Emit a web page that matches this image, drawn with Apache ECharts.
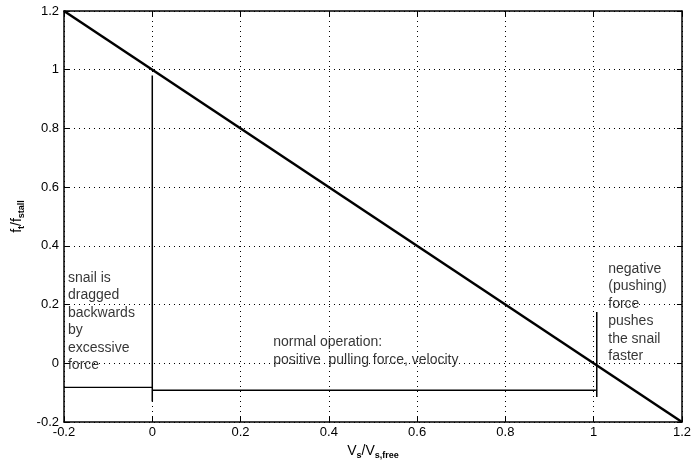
<!DOCTYPE html>
<html>
<head>
<meta charset="utf-8">
<script src="https://cdn.jsdelivr.net/npm/echarts@6/dist/echarts.min.js"></script>
<style>
  html, body { margin: 0; padding: 0; background: #fff; }
  #chart { width: 694px; height: 467px; }
</style>
</head>
<body>
<div id="chart"></div>
<script>
// Normalised force–velocity characteristic of the snail drive
const speedRatio = [-0.2, 1.2];          // V_s / V_s,free
const forceRatio = [1.2, -0.2];          // f_t / f_stall

// Bracket lines marking the three operating regions
const stallMarkX = [0, 0];
const stallMarkY = [0.98, -0.13];
const backwardSpanX = [-0.2, 0];
const backwardSpanY = [-0.082, -0.082];
const normalSpanX = [0, 1.005];
const normalSpanY = [-0.092, -0.092];
const freeMarkX = [1.007, 1.007];
const freeMarkY = [0.175, -0.115];

// Axis range and tick spacing
const axisMin = -0.2;
const axisMax = 1.2;
const tickStep = 0.2;

// Region notes
const noteBackward = ['snail is', 'dragged', 'backwards', 'by', 'excessive', 'force'];
const noteNormal = ['normal operation:', 'positive  pulling force, velocity'];
const notePushing = ['negative', '(pushing)', 'force', 'pushes', 'the snail', 'faster'];

const FONT = '"Liberation Sans", Arial, Helvetica, sans-serif';

function zip(xs, ys) { return xs.map((x, i) => [x, ys[i]]); }

function segment(xs, ys, width) {
  return {
    type: 'line', data: zip(xs, ys), symbol: 'none', silent: true,
    lineStyle: { color: '#000', width: width }, animation: false, z: 3
  };
}

function note(lines, x, y, lh) {
  return {
    type: 'scatter', symbolSize: 0, silent: true, animation: false, z: 4,
    data: [[x, y]],
    label: {
      show: true, position: [0, 0], align: 'left', verticalAlign: 'top',
      formatter: lines.join('\n'), fontFamily: FONT, fontSize: 14,
      lineHeight: lh, color: '#000'
    }
  };
}

const baseAxis = {
  type: 'value', min: axisMin, max: axisMax, interval: tickStep,
  axisLine: { show: true, onZero: false, lineStyle: { color: '#000', width: 1.5 } },
  axisTick: { show: true, inside: true, length: 5, lineStyle: { color: '#000' } }
};

const chart = echarts.init(document.getElementById('chart'), null, { renderer: 'canvas' });
chart.setOption({
  backgroundColor: '#fff',
  animation: false,
  grid: { left: 64, right: 10, top: 11, bottom: 45 },
  xAxis: [
    Object.assign({}, baseAxis, {
      position: 'bottom',
      name: '{a|V}{s|s}{a|/V}{s|s,free}',
      nameLocation: 'middle', nameGap: 17,
      nameTextStyle: {
        rich: {
          a: { fontFamily: FONT, fontSize: 14, color: '#000' },
          s: { fontFamily: FONT, fontSize: 9, fontWeight: 'bold', color: '#000', padding: [9, 0, 0, 0] }
        }
      },
      axisLabel: { fontFamily: FONT, fontSize: 13, color: '#000', margin: 4 },
      splitLine: { show: true, lineStyle: { color: '#000', type: [1, 4], width: 1 } }
    }),
    Object.assign({}, baseAxis, {
      position: 'top', axisLabel: { show: false }, splitLine: { show: false }
    })
  ],
  yAxis: [
    Object.assign({}, baseAxis, {
      position: 'left',
      name: '{a|f}{s|t}{a|/f}{s|stall}',
      nameLocation: 'middle', nameGap: 38, nameRotate: 90,
      nameTextStyle: {
        rich: {
          a: { fontFamily: FONT, fontSize: 14, color: '#000' },
          s: { fontFamily: FONT, fontSize: 9, fontWeight: 'bold', color: '#000', padding: [9, 0, 0, 0] }
        }
      },
      axisLabel: { fontFamily: FONT, fontSize: 13, color: '#000', margin: 5 },
      splitLine: { show: true, lineStyle: { color: '#000', type: [1, 4], width: 1 } }
    }),
    Object.assign({}, baseAxis, {
      position: 'right', axisLabel: { show: false }, splitLine: { show: false }
    })
  ],
  series: [
    {
      type: 'line', data: zip(speedRatio, forceRatio), symbol: 'none', silent: true,
      lineStyle: { color: '#000', width: 2.5 }, animation: false, z: 5
    },
    segment(stallMarkX, stallMarkY, 1.5),
    segment(backwardSpanX, backwardSpanY, 1.2),
    segment(normalSpanX, normalSpanY, 1.5),
    segment(freeMarkX, freeMarkY, 1.5),
    note(noteBackward, -0.191, 0.32, 17.4),
    note(noteNormal, 0.274, 0.1, 17.3),
    note(notePushing, 1.033, 0.35, 17.4)
  ]
});
</script>
</body>
</html>
